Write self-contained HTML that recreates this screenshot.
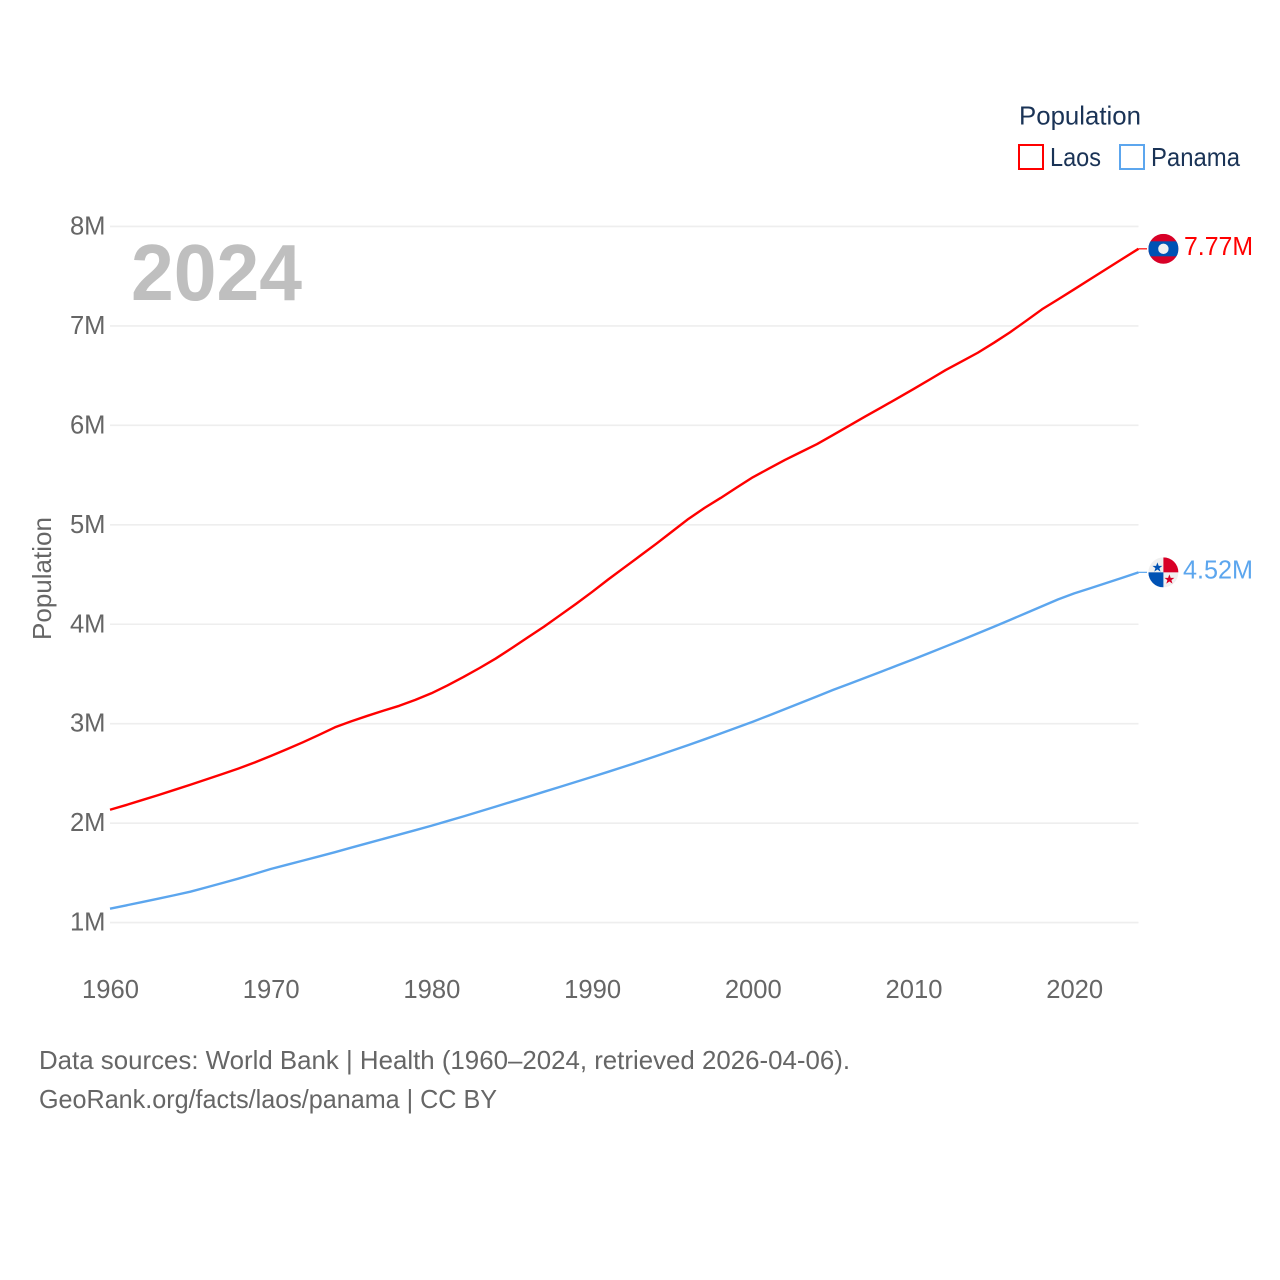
<!DOCTYPE html>
<html lang="en">
<head>
<meta charset="utf-8">
<title>Population: Laos and Panama</title>
<style>
html,body{margin:0;padding:0;background:#fff;width:1280px;height:1280px;overflow:hidden}
svg{display:block}
text{font-family:"Liberation Sans",sans-serif}
</style>
</head>
<body>
<svg id="chart" xmlns="http://www.w3.org/2000/svg" width="1280" height="1280" viewBox="0 0 1280 1280">
  <rect width="1280" height="1280" fill="#ffffff"/>
  <g id="grid"></g>
  <g id="yticks"></g>
  <g id="xticks"></g>
  <text x="131" y="300" font-size="80" font-weight="700" fill="#bfbfbf" textLength="171" lengthAdjust="spacingAndGlyphs">2024</text>
  <text transform="translate(51,640) rotate(-90)" font-size="25.6" fill="#666666" textLength="123" lengthAdjust="spacingAndGlyphs">Population</text>
  <g id="series"></g>

  <g id="flag-laos">
    <clipPath id="clip-laos"><circle cx="0" cy="0" r="15"/></clipPath>
    <g clip-path="url(#clip-laos)">
      <rect x="-15" y="-15" width="30" height="30" fill="#d80027"/>
      <rect x="-15" y="-7.5" width="30" height="15" fill="#0052b4"/>
      <circle cx="0" cy="0" r="5.2" fill="#f0f0f0"/>
    </g>
  </g>
  <g id="flag-panama">
    <clipPath id="clip-panama"><circle cx="0" cy="0" r="15"/></clipPath>
    <g clip-path="url(#clip-panama)">
      <rect x="-15" y="-15" width="30" height="30" fill="#f0f0f0"/>
      <rect x="0" y="-15" width="15" height="15" fill="#d80027"/>
      <rect x="-15" y="0" width="15" height="15" fill="#0052b4"/>
      <polygon points="-6,-10 -4.7,-6.4 -1,-6.4 -4,-4.2 -2.9,-0.7 -6,-2.8 -9.1,-0.7 -8,-4.2 -11,-6.4 -7.3,-6.4" fill="#0052b4"/>
      <polygon points="6,2 7.3,5.6 11,5.6 8,7.8 9.1,11.3 6,9.2 2.9,11.3 4,7.8 1,5.6 4.7,5.6" fill="#d80027"/>
    </g>
  </g>

  <g id="legend">
    <text x="1019" y="124.5" font-size="26" fill="#1a3356" textLength="122" lengthAdjust="spacingAndGlyphs">Population</text>
    <g>
      <rect x="1019" y="145" width="24" height="24" fill="none" stroke="#ff0000" stroke-width="2"/>
      <text x="1050" y="166" font-size="26" fill="#1a3356" textLength="51" lengthAdjust="spacingAndGlyphs">Laos</text>
    </g>
    <g>
      <rect x="1120" y="145" width="24" height="24" fill="none" stroke="#5ca6ee" stroke-width="2"/>
      <text x="1151" y="166" font-size="26" fill="#1a3356" textLength="89" lengthAdjust="spacingAndGlyphs">Panama</text>
    </g>
  </g>

  <text x="39" y="1069" font-size="26" fill="#666666" textLength="811" lengthAdjust="spacingAndGlyphs">Data sources: World Bank | Health (1960–2024, retrieved 2026-04-06).</text>
  <text x="39" y="1108" font-size="26" fill="#666666" textLength="458" lengthAdjust="spacingAndGlyphs">GeoRank.org/facts/laos/panama | CC BY</text>
</svg>
<script>
const firstYear = 1960;
const xTickYears = [1960, 1970, 1980, 1990, 2000, 2010, 2020];
const yTickValues = [1, 2, 3, 4, 5, 6, 7, 8];
const yTickLabels = ['1M', '2M', '3M', '4M', '5M', '6M', '7M', '8M'];
const laosValues = [2.135,2.182,2.232,2.282,2.334,2.386,2.44,2.494,2.55,2.61,2.675,2.743,2.813,2.887,2.964,3.023,3.078,3.13,3.18,3.24,3.306,3.385,3.47,3.56,3.655,3.76,3.868,3.975,4.09,4.205,4.325,4.45,4.57,4.69,4.81,4.935,5.06,5.17,5.27,5.375,5.478,5.565,5.652,5.732,5.812,5.904,5.997,6.09,6.18,6.272,6.365,6.46,6.556,6.643,6.73,6.83,6.935,7.05,7.167,7.267,7.368,7.47,7.572,7.674,7.775];
const panamaValues = [1.14,1.173,1.206,1.24,1.275,1.311,1.354,1.398,1.443,1.49,1.539,1.581,1.623,1.665,1.708,1.753,1.797,1.841,1.885,1.929,1.974,2.021,2.068,2.117,2.166,2.216,2.265,2.315,2.365,2.415,2.465,2.516,2.568,2.621,2.675,2.73,2.786,2.843,2.901,2.96,3.02,3.083,3.147,3.211,3.275,3.34,3.401,3.462,3.524,3.586,3.648,3.712,3.777,3.842,3.908,3.975,4.043,4.112,4.181,4.25,4.31,4.362,4.415,4.468,4.522];
const laosLabel = '7.77M';
const panamaLabel = '4.52M';

const SVG_NS = 'http://www.w3.org/2000/svg';
const xScale = function (year) { return 110 + (year - 1960) * 16.07; };
const yScale = function (value) { return 922.6 - (value - 1) * 99.45; };
const gridRight = xScale(2024);

function make(parent, tag, attrs, text) {
  const el = document.createElementNS(SVG_NS, tag);
  Object.keys(attrs).forEach(function (k) { el.setAttribute(k, attrs[k]); });
  if (text !== undefined) el.textContent = text;
  parent.appendChild(el);
  return el;
}

const gridGroup = document.getElementById('grid');
const yTickGroup = document.getElementById('yticks');
const xTickGroup = document.getElementById('xticks');
const seriesGroup = document.getElementById('series');
const chartRoot = document.getElementById('chart');

yTickValues.forEach(function (v, i) {
  const line = make(gridGroup, 'line', { x1: 110, x2: gridRight, y1: yScale(v), y2: yScale(v), stroke: '#eeeeee', 'stroke-width': 1.6 });
  
  
  const label = make(yTickGroup, 'text', { x: 105.5, y: yScale(v) + 8, 'text-anchor': 'end', 'font-size': 25.6, fill: '#666666' }, yTickLabels[i]);
  
  
});

xTickYears.forEach(function (year) {
  const label = make(xTickGroup, 'text', { x: xScale(year) + 0.5, y: 998, 'text-anchor': 'middle', 'font-size': 25.6, fill: '#666666' }, String(year));
  
  
});

function pathFor(values) {
  return values.map(function (v, i) {
    return (i ? 'L' : 'M') + xScale(firstYear + i).toFixed(2) + ' ' + yScale(v).toFixed(2);
  }).join(' ');
}

const laosLine = make(seriesGroup, 'path', { d: pathFor(laosValues), fill: 'none', stroke: '#ff0000', 'stroke-width': 2.4, 'stroke-linejoin': 'round' });



const panamaLine = make(seriesGroup, 'path', { d: pathFor(panamaValues), fill: 'none', stroke: '#5ca6ee', 'stroke-width': 2.4, 'stroke-linejoin': 'round' });



const laosEndY = yScale(laosValues[laosValues.length - 1]);
const panamaEndY = yScale(panamaValues[panamaValues.length - 1]);

const laosStub = make(seriesGroup, 'line', { x1: gridRight, x2: 1147, y1: laosEndY, y2: laosEndY, stroke: '#ff0000', 'stroke-width': 1.2 });



const panamaStub = make(seriesGroup, 'line', { x1: gridRight, x2: 1147, y1: panamaEndY, y2: panamaEndY, stroke: '#5ca6ee', 'stroke-width': 1.2 });



document.getElementById('flag-laos').setAttribute('transform', 'translate(1163.4,' + laosEndY + ')');
document.getElementById('flag-panama').setAttribute('transform', 'translate(1163.4,' + panamaEndY + ')');

const laosValueLabel = make(chartRoot, 'text', { x: 1184, y: laosEndY + 6, 'font-size': 25.6, fill: '#ff0000', textLength: 69, lengthAdjust: 'spacingAndGlyphs' }, laosLabel);



const panamaValueLabel = make(chartRoot, 'text', { x: 1183, y: panamaEndY + 6, 'font-size': 25.6, fill: '#5ca6ee', textLength: 70, lengthAdjust: 'spacingAndGlyphs' }, panamaLabel);


</script>
</body>
</html>
